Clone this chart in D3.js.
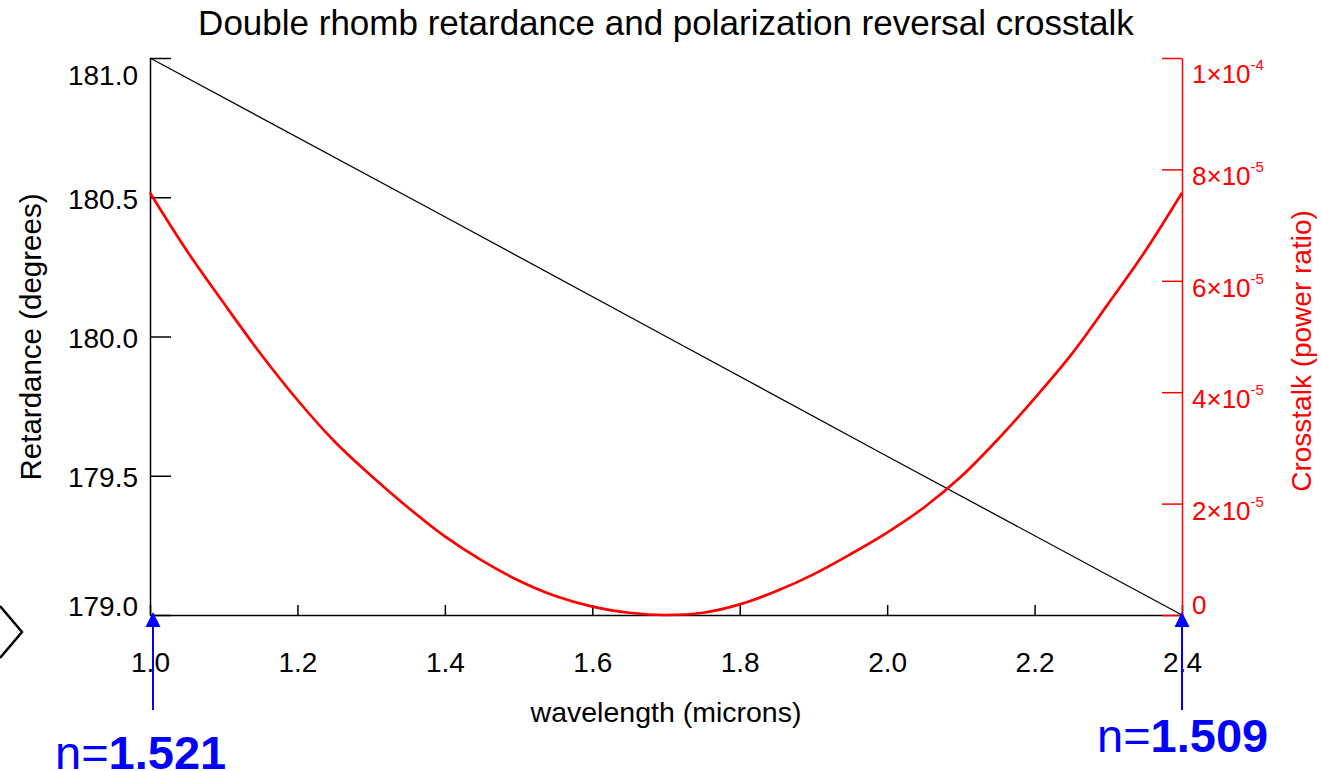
<!DOCTYPE html>
<html lang="en">
<head>
    <meta charset="UTF-8">
    <title>Double rhomb retardance and polarization reversal crosstalk</title>
    <script src="https://cdnjs.cloudflare.com/ajax/libs/d3/7.8.5/d3.min.js"></script>
    <style>
        body { margin: 0; background: #ffffff; }
        svg text { font-family: "Liberation Sans", Arial, Helvetica, sans-serif; }
    </style>
</head>
<body>
    <script>
        // wavelength samples (microns)
        var wavelength = [1.00, 1.05, 1.10, 1.15, 1.20, 1.25, 1.30, 1.35, 1.40, 1.45, 1.50, 1.55, 1.60, 1.65,
                          1.70, 1.75, 1.80, 1.85, 1.90, 1.95, 2.00, 2.05, 2.10, 2.15, 2.20, 2.25, 2.30, 2.35, 2.40];
        // crosstalk in units of 1e-6 (power ratio)
        var crosstalk = [75.8, 65.4, 56.0, 46.9, 38.6, 31.2, 25.0, 19.3, 14.1, 9.8, 6.2, 3.4, 1.5, 0.4,
                         0.0, 0.4, 1.9, 4.3, 7.3, 10.9, 14.8, 19.3, 24.8, 31.5, 38.9, 46.8, 55.9, 65.3, 75.8];
        // retardance (degrees)
        var retWavelength = [1.0, 1.4, 1.7, 2.0, 2.4];
        var retardance = [181.0, 180.43, 180.0, 179.57, 179.0];

        var xTicks = [1.0, 1.2, 1.4, 1.6, 1.8, 2.0, 2.2, 2.4];
        var leftTicks = [179.0, 179.5, 180.0, 180.5, 181.0];
        var rightTicks = [0, 2e-5, 4e-5, 6e-5, 8e-5, 1e-4];
        var rightLabels = [["0", ""], ["2\u00d710", "-5"], ["4\u00d710", "-5"], ["6\u00d710", "-5"], ["8\u00d710", "-5"], ["1\u00d710", "-4"]];

        var W = 1321, H = 771;
        var pLeft = 150, pRight = 1182, pTop = 58, pBottom = 615;

        var svg = d3.select("body").append("svg")
            .attr("width", W)
            .attr("height", H);

        var x = d3.scaleLinear().domain([1.0, 2.4]).range([pLeft, pRight]);
        var yL = d3.scaleLinear().domain([179.0, 181.0]).range([pBottom, pTop]);
        var yR = d3.scaleLinear().domain([0, 1e-4]).range([pBottom, pTop]);

        // title
        svg.append("text")
            .attr("x", (pLeft + pRight) / 2)
            .attr("y", 35)
            .attr("text-anchor", "middle")
            .style("font-size", "35px")
            .text("Double rhomb retardance and polarization reversal crosstalk");

        // bottom axis
        var gx = svg.append("g").attr("transform", "translate(0," + pBottom + ")");
        gx.call(d3.axisBottom(x).tickValues(d3.range(1.0, 2.401, 0.05)).tickSize(-6).tickSizeOuter(0).tickFormat(""));
        gx.call(d3.axisBottom(x).tickValues(xTicks).tickSize(-10).tickSizeOuter(0).tickPadding(37).tickFormat(d3.format(".1f")));
        gx.selectAll("text").style("font-size", "28px").attr("fill", "#000");
        gx.selectAll("line, path").attr("stroke", "#000").attr("stroke-width", 1.5);

        svg.append("text")
            .attr("x", (pLeft + pRight) / 2)
            .attr("y", 722)
            .attr("text-anchor", "middle")
            .style("font-size", "28.5px")
            .text("wavelength (microns)");

        // left axis
        var gl = svg.append("g").attr("transform", "translate(" + pLeft + ",0)");
        gl.call(d3.axisLeft(yL).tickValues(d3.range(179.0, 181.001, 0.1)).tickSize(-10).tickSizeOuter(0).tickFormat(""));
        gl.call(d3.axisLeft(yL).tickValues(leftTicks).tickSize(-21).tickSizeOuter(0).tickPadding(12).tickFormat(d3.format(".1f")));
        gl.selectAll("text").style("font-size", "28px").attr("fill", "#000")
            .attr("dy", function(d) { return d === 181.0 ? "0.95em" : (d === 179.0 ? "0.0em" : "0.4em"); });
        gl.selectAll("line, path").attr("stroke", "#000").attr("stroke-width", 1.5);

        svg.append("text")
            .attr("transform", "translate(41," + 337 + ") rotate(-90)")
            .attr("text-anchor", "middle")
            .style("font-size", "29.5px")
            .text("Retardance (degrees)");

        // right axis (red)
        var gr = svg.append("g").attr("transform", "translate(" + pRight + ",0)");
        gr.call(d3.axisRight(yR).tickValues(d3.range(0, 1.0001e-4, 5e-6)).tickSize(-10).tickSizeOuter(0).tickFormat(""));
        gr.call(d3.axisRight(yR).tickValues(rightTicks).tickSize(-20).tickSizeOuter(0).tickFormat(""));
        gr.selectAll("line, path").attr("stroke", "#ff0000").attr("stroke-width", 1.5);

        var rl = gr.selectAll("text.rlab")
            .data(rightTicks)
            .enter()
            .append("text")
            .attr("class", "rlab")
            .attr("x", 10)
            .attr("y", function(d, i) {
                var off = i === 0 ? -1 : (i === rightTicks.length - 1 ? 25 : 16);
                return yR(d) + off;
            })
            .attr("fill", "#ff0000")
            .style("font-size", "26px");
        rl.append("tspan").text(function(d, i) { return rightLabels[i][0]; });
        rl.append("tspan")
            .attr("dy", -13)
            .style("font-size", "15px")
            .text(function(d, i) { return rightLabels[i][1]; });

        svg.append("text")
            .attr("transform", "translate(1311," + 351 + ") rotate(-90)")
            .attr("text-anchor", "middle")
            .attr("fill", "#ff0000")
            .style("font-size", "28px")
            .text("Crosstalk (power ratio)");

        // retardance line
        var retData = retWavelength.map(function(w, i) { return [w, retardance[i]]; });
        svg.append("path")
            .datum(retData)
            .attr("fill", "none")
            .attr("stroke", "#000")
            .attr("stroke-width", 1.3)
            .attr("d", d3.line().x(function(d) { return x(d[0]); }).y(function(d) { return yL(d[1]); }));

        // crosstalk curve
        var ctData = wavelength.map(function(w, i) { return [w, crosstalk[i] * 1e-6]; });
        svg.append("path")
            .datum(ctData)
            .attr("fill", "none")
            .attr("stroke", "#ff0000")
            .attr("stroke-width", 2.7)
            .attr("d", d3.line().curve(d3.curveCatmullRom).x(function(d) { return x(d[0]); }).y(function(d) { return Math.min(yR(d[1]), pBottom); }));

        // decorative chevron at the left edge
        svg.append("path")
            .attr("d", "M0,606 L22,632 L0,658")
            .attr("fill", "none")
            .attr("stroke", "#000")
            .attr("stroke-width", 2.5);

        // blue index arrows and labels
        var marks = [{w: 1.0, n: "1.521", lx: 55, ly: 769}, {w: 2.4, n: "1.509", lx: 1097, ly: 752}];
        marks.forEach(function(m) {
            var ax = x(m.w) + (m.w === 1.0 ? 3 : 0);
            svg.append("line")
                .attr("x1", ax).attr("x2", ax)
                .attr("y1", 710).attr("y2", 624)
                .attr("stroke", "#0000ff")
                .attr("stroke-width", 2);
            svg.append("path")
                .attr("d", "M" + ax + "," + 612 + " L" + (ax - 7.5) + "," + 627 + " L" + (ax + 7.5) + "," + 627 + " Z")
                .attr("fill", "#0000ff");
            var t = svg.append("text")
                .attr("x", m.lx)
                .attr("y", m.ly)
                .attr("fill", "#0000ff")
                .style("font-size", "47px");
            t.append("tspan").text("n=");
            t.append("tspan").style("font-weight", "bold").text(m.n);
        });
    </script>
</body>
</html>
